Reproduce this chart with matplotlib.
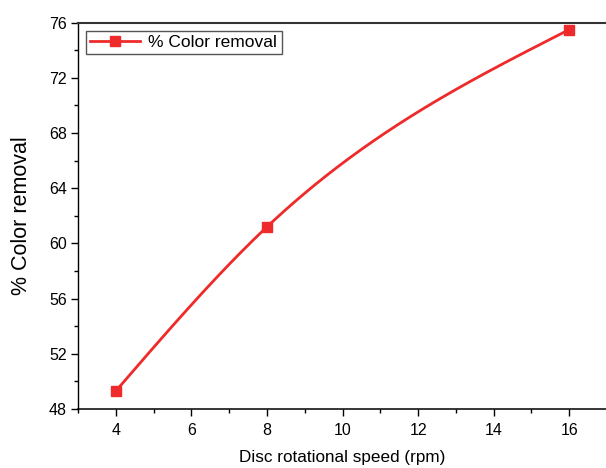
import numpy
import matplotlib
matplotlib.use("Agg")
import matplotlib.pyplot as plt
from matplotlib.ticker import MultipleLocator

plt.rcParams["font.family"] = ["Liberation Sans", "DejaVu Sans"]

# data
speed = [4, 8, 16]  # rpm
removal = [49.3, 61.2, 75.5]  # %
label = "% Color removal"
red = "#ee2a2a"


def natural_spline(x, y, xs):
    # natural cubic spline, same smoothing Origin uses for "Spline" lines
    x = numpy.asarray(x, float)
    y = numpy.asarray(y, float)
    n = len(x)
    h = numpy.diff(x)
    A = numpy.zeros((n, n))
    b = numpy.zeros(n)
    A[0, 0] = A[-1, -1] = 1.0
    for i in range(1, n - 1):
        A[i, i - 1] = h[i - 1]
        A[i, i] = 2 * (h[i - 1] + h[i])
        A[i, i + 1] = h[i]
        b[i] = 6 * ((y[i + 1] - y[i]) / h[i] - (y[i] - y[i - 1]) / h[i - 1])
    M = numpy.linalg.solve(A, b)
    k = numpy.clip(numpy.searchsorted(x, xs) - 1, 0, n - 2)
    hk = h[k]
    a = x[k + 1] - xs
    c = xs - x[k]
    return (M[k] * a ** 3 / (6 * hk) + M[k + 1] * c ** 3 / (6 * hk)
            + (y[k] / hk - M[k] * hk / 6) * a + (y[k + 1] / hk - M[k + 1] * hk / 6) * c)


fig = plt.figure(figsize=(6.06, 4.68), dpi=100)
ax = fig.add_axes([0.1287, 0.1261, 0.873, 0.8254])

xs = numpy.linspace(speed[0], speed[-1], 300)
ax.plot(xs, natural_spline(speed, removal, xs), color=red, lw=2.0, zorder=2)
ax.plot(speed, removal, ls="none", marker="s", ms=6.5, color=red, zorder=3)
# proxy handle for the legend (line + marker)
ax.plot([], [], color=red, lw=2.0, marker="s", ms=6.5, label=label)

ax.set_xlim(3, 17)
ax.set_ylim(48, 76)
ax.xaxis.set_major_locator(MultipleLocator(2))
ax.xaxis.set_minor_locator(MultipleLocator(1))
ax.yaxis.set_major_locator(MultipleLocator(4))
ax.yaxis.set_minor_locator(MultipleLocator(2))
ax.tick_params(which="major", direction="out", length=5, width=1.0, labelsize=11.5)
ax.tick_params(which="minor", direction="out", length=3, width=1.0)
ax.tick_params(axis="x", pad=5)
ax.tick_params(axis="y", pad=3)
ax.tick_params(top=False, right=False)

ax.spines["right"].set_visible(False)
ax.spines["top"].set_color("#333333")
ax.spines["top"].set_linewidth(1.5)
ax.spines["bottom"].set_linewidth(1.1)
ax.spines["left"].set_linewidth(1.0)

ax.set_xlabel("Disc rotational speed (rpm)", fontsize=12.3, labelpad=9)
ax.set_ylabel("% Color removal", fontsize=15.5, labelpad=12)

leg = ax.legend(loc="upper left", fontsize=12.5, handlelength=2.9,
                fancybox=False, framealpha=1, edgecolor="#555555",
                borderpad=0.25, borderaxespad=0.45, handletextpad=0.45)
leg.get_frame().set_linewidth(1.0)

fig.savefig("out.png", dpi=100)
